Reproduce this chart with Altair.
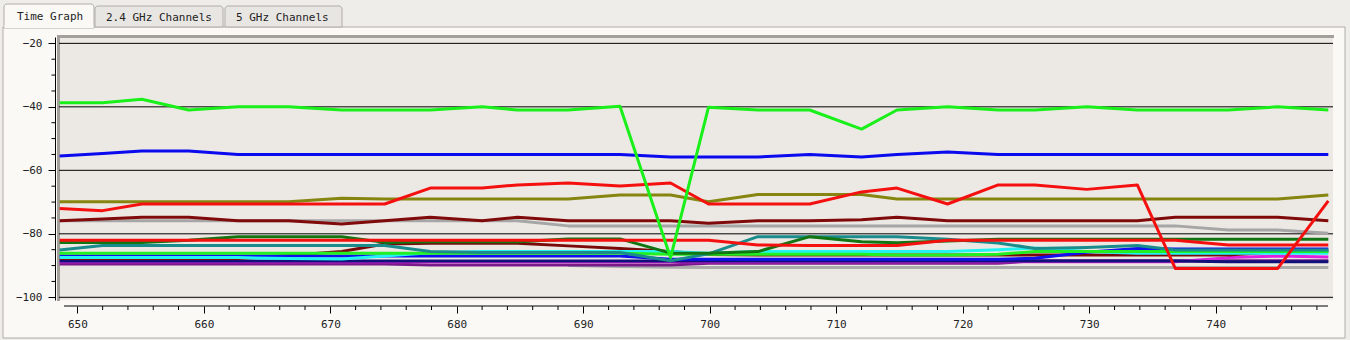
import altair as alt
import pandas as pd

# ---------------- data ----------------
t = [648.6, 652.0, 655.1, 658.8, 662.7, 666.7, 670.9, 674.3, 677.9, 682.0,
     684.8, 688.8, 692.9, 696.9, 699.9, 703.8, 707.9, 712.0, 714.8, 718.8,
     722.8, 725.7, 729.8, 733.8, 736.8, 741.0, 744.9, 748.9]

green_top = [-38.7, -38.7, -37.6, -41.0, -40.0, -40.0, -41.0, -41.0, -41.0, -40.0,
             -41.0, -41.0, -39.8, -87.5, -40.1, -41.0, -41.0, -47.0, -41.0, -40.0,
             -41.0, -41.0, -40.0, -41.0, -41.0, -41.0, -40.0, -41.0]
blue_top = [-55.5, -54.7, -53.9, -53.9, -55.0, -55.0, -55.0, -55.0, -55.0, -55.0,
            -55.0, -55.0, -55.0, -55.8, -55.8, -55.8, -55.0, -55.8, -55.0, -54.2,
            -55.0, -55.0, -55.0, -55.0, -55.0, -55.0, -55.0, -55.0]
red_top = [-72.0, -72.7, -70.6, -70.6, -70.6, -70.6, -70.6, -70.6, -65.6, -65.6,
           -64.6, -64.0, -64.9, -64.0, -70.6, -70.6, -70.6, -66.8, -65.6, -70.6,
           -64.6, -64.6, -66.0, -64.6, -90.9, -90.9, -90.9, -69.6]
olive = [-69.9, -69.9, -69.9, -69.9, -69.9, -69.9, -68.8, -69.0, -69.0, -69.0,
         -69.0, -69.0, -67.8, -67.8, -69.9, -67.6, -67.6, -67.6, -69.0, -69.0,
         -69.0, -69.0, -69.0, -69.0, -69.0, -69.0, -69.0, -67.8]
maroon_top = [-75.9, -75.3, -74.8, -74.8, -75.9, -75.9, -76.9, -75.9, -74.8, -75.9,
              -74.8, -75.9, -75.9, -75.9, -76.7, -75.9, -75.9, -75.6, -74.8, -75.9,
              -75.9, -75.9, -75.9, -75.9, -74.8, -74.8, -74.8, -75.9]
gray_top = [-75.9, -75.9, -75.9, -75.9, -75.9, -75.9, -75.9, -75.9, -75.9, -75.9,
            -75.9, -77.5, -77.5, -77.5, -77.5, -77.5, -77.5, -77.5, -77.5, -77.5,
            -77.5, -77.5, -77.5, -77.5, -77.5, -78.8, -78.8, -79.8]
red_low = [-82.0, -82.0, -82.0, -82.0, -82.0, -82.0, -82.0, -82.0, -82.0, -82.0,
           -82.0, -82.0, -82.0, -82.0, -82.0, -83.5, -83.7, -83.7, -83.7, -82.0,
           -82.0, -82.0, -82.0, -82.0, -82.0, -83.5, -83.5, -83.5]
dkgreen = [-82.7, -82.7, -82.7, -82.0, -80.9, -80.9, -80.9, -82.7, -82.5, -82.5,
           -82.5, -81.6, -81.6, -86.1, -86.1, -85.6, -80.9, -82.5, -82.8, -82.3,
           -81.7, -81.7, -81.7, -81.7, -81.7, -81.7, -81.7, -81.7]
teal = [-85.1, -83.7, -83.7, -83.7, -83.7, -83.7, -83.7, -83.7, -85.6, -85.9,
        -85.9, -85.9, -85.9, -88.5, -86.3, -80.9, -80.9, -80.9, -80.9, -81.7,
        -82.9, -84.6, -84.3, -83.7, -85.1, -85.1, -85.1, -85.1]
lime_low = [-86.1, -86.1, -86.1, -86.1, -86.1, -86.1, -86.1, -86.1, -86.1, -86.1,
            -86.1, -86.1, -86.1, -86.4, -86.4, -86.4, -86.4, -86.4, -86.7, -86.7,
            -86.4, -85.6, -85.6, -85.6, -85.6, -85.6, -85.6, -85.6]
cyan = [-87.5, -87.5, -87.5, -87.5, -87.5, -87.8, -87.9, -87.0, -86.0, -85.6,
        -85.6, -85.6, -85.6, -85.6, -86.1, -85.6, -85.6, -85.6, -85.6, -85.6,
        -85.0, -84.5, -85.6, -86.1, -86.1, -86.1, -86.1, -86.1]
blue_low = [-87.0, -87.0, -87.0, -87.0, -87.0, -87.0, -87.0, -87.0, -87.0, -87.0,
            -87.0, -87.0, -87.0, -88.0, -88.0, -88.0, -88.0, -88.0, -88.0, -88.0,
            -88.0, -87.7, -85.8, -84.6, -84.8, -84.8, -84.8, -84.8]
maroon_low = [-87.8, -87.8, -87.8, -87.8, -87.8, -86.8, -85.6, -83.2, -83.0, -83.0,
              -83.0, -83.8, -84.6, -85.6, -86.5, -86.7, -86.7, -86.7, -86.7, -86.7,
              -86.7, -86.7, -86.7, -86.7, -86.7, -86.7, -85.6, -85.6]
navy = [-88.6, -88.6, -88.6, -88.6, -88.6, -88.6, -88.6, -88.6, -88.6, -88.6,
        -88.6, -88.6, -88.6, -88.6, -88.6, -88.6, -88.6, -88.6, -88.6, -88.6,
        -88.6, -88.6, -88.6, -88.6, -88.6, -88.8, -88.8, -88.8]
purple = [-89.5, -89.5, -89.5, -89.5, -89.5, -89.5, -89.5, -89.5, -89.8, -89.8,
          -89.8, -89.8, -89.8, -89.8, -89.3, -89.3, -89.3, -89.3, -89.3, -89.3,
          -89.3, -88.5, -88.5, -88.5, -88.5, -88.5, -88.5, -88.5]
magenta = [-88.8, -88.8, -88.8, -88.8, -88.8, -88.8, -88.8, -88.8, -88.8, -88.8,
           -88.8, -88.8, -88.8, -88.8, -88.8, -88.8, -88.8, -88.8, -88.8, -88.8,
           -88.8, -88.8, -88.8, -88.8, -88.8, -87.5, -87.0, -87.3]
gray_low = [None, None, None, None, None, None, None, None, None, None,
            None, -90.0, -90.3, -90.5, -90.6, -90.6, -90.6, -90.6, -90.6, -90.6,
            -90.6, -90.6, -90.6, -90.6, -90.6, -90.6, -90.6, -90.6]

# drawing order (bottom first) and colours
series = [
    ("gray_low", gray_low, "#ababab"),
    ("purple", purple, "#7a1a8a"),
    ("magenta", magenta, "#e020e0"),
    ("navy", navy, "#10107a"),
    ("maroon_low", maroon_low, "#7a0a0a"),
    ("blue_low", blue_low, "#1010ee"),
    ("cyan", cyan, "#22f2f2"),
    ("lime_low", lime_low, "#22f022"),
    ("teal", teal, "#1a8c8c"),
    ("dkgreen", dkgreen, "#127512"),
    ("red_low", red_low, "#f51010"),
    ("gray_top", gray_top, "#a6a6a6"),
    ("maroon_top", maroon_top, "#800a0a"),
    ("olive", olive, "#858510"),
    ("blue_top", blue_top, "#0a0aee"),
    ("red_top", red_top, "#f51010"),
    ("green_top", green_top, "#19f019"),
]

y_major = [-20, -40, -60, -80, -100]
y_minor = [-25, -30, -35, -45, -50, -55, -65, -70, -75, -85, -90, -95]
x_major = [650, 660, 670, 680, 690, 700, 710, 720, 730, 740]
x_minor = [652, 654, 656, 658, 662, 664, 666, 668, 672, 674, 676, 678,
           682, 684, 686, 688, 692, 694, 696, 698, 702, 704, 706, 708,
           712, 714, 716, 718, 722, 724, 726, 728, 732, 734, 736, 738,
           742, 744, 746, 748]
tabs = ["Time Graph", "2.4 GHz Channels", "5 GHz Channels"]

# ---------------- layout ----------------
W, H = 1274, 263
FONT = "DejaVu Sans Mono"
OUTER = "#efede9"
PANEL = "#faf9f6"
PLOTBG = "#ece9e5"

xscale = alt.Scale(domain=[648.55, 749.27], nice=False, zero=False)
yscale = alt.Scale(domain=[-100.85, -18.0], nice=False, zero=False)

xaxis = alt.Axis(values=x_major, orient="bottom", offset=6, domain=False,
                 tickSize=7, tickColor="#000", labelPadding=5, labelFont=FONT,
                 labelFontSize=11, labelColor="#222", format="d", grid=False,
                 title=None, zindex=1, labelFlush=False, labelOverlap=False)
yaxis = alt.Axis(values=y_major, orient="left", offset=4, domain=True,
                 domainColor="#000", domainWidth=1, tickSize=7, tickColor="#000",
                 labelPadding=6, labelFont=FONT, labelFontSize=11,
                 labelColor="#222", format="d", grid=False, title=None, zindex=1)

one = alt.Data(values=[{}])


def box(x, x2, y, y2, **kw):
    return alt.Chart(one).mark_rect(**kw).encode(
        x=alt.value(x), x2=alt.value(x2), y=alt.value(y), y2=alt.value(y2))


def label(txt, x, y):
    return alt.Chart(one).mark_text(text=txt, align="left", baseline="alphabetic",
                                    font=FONT, fontSize=11, color="#222").encode(
        x=alt.value(x), y=alt.value(y))


layers = []
# panel frame
layers.append(box(-56, 1286, -10, 301, fill=PANEL, stroke="#b0ada8", strokeWidth=1))
# tabs
layers.append(box(36, 164, -31, -10, fill="#e8e6e2", stroke="#b0ada8", strokeWidth=1,
                  cornerRadiusTopLeft=3, cornerRadiusTopRight=3))
layers.append(box(166, 283, -31, -10, fill="#e8e6e2", stroke="#b0ada8", strokeWidth=1,
                  cornerRadiusTopLeft=3, cornerRadiusTopRight=3))
layers.append(box(-55, 35, -33, -9, fill=PANEL, stroke="#b0ada8", strokeWidth=1,
                  cornerRadiusTopLeft=3, cornerRadiusTopRight=3))
layers.append(box(-54.5, 34.5, -12, -9, fill=PANEL))
layers.append(label(tabs[0], -42, -17))
layers.append(label(tabs[1], 47, -16))
layers.append(label(tabs[2], 177, -16))

# plot background and bevel border
layers.append(box(0, W, 0, H, fill=PLOTBG))
layers.append(box(-2, 1, -2, H + 1, fill="#a3a09c"))
layers.append(box(-2, W + 1, -2, 1, fill="#a3a09c"))

# grid lines
grid_df = pd.DataFrame({"v": y_major})
layers.append(alt.Chart(grid_df).mark_rule(color="#000", strokeWidth=1).encode(
    y=alt.Y("v:Q", scale=yscale, axis=yaxis)))

# minor ticks
ymin_df = pd.DataFrame({"v": y_minor})
layers.append(alt.Chart(ymin_df).mark_rule(color="#000", strokeWidth=1).encode(
    y=alt.Y("v:Q", scale=yscale, axis=yaxis), x=alt.value(-7.5), x2=alt.value(-4)))
xmin_df = pd.DataFrame({"t": x_minor})
layers.append(alt.Chart(xmin_df).mark_rule(color="#000", strokeWidth=1).encode(
    x=alt.X("t:Q", scale=xscale, axis=xaxis), y=alt.value(H + 6), y2=alt.value(H + 10)))
# x axis base line
layers.append(alt.Chart(one).mark_rule(color="#000", strokeWidth=1).encode(
    x=alt.value(5), x2=alt.value(W - 5), y=alt.value(H + 6)))

# series lines
for name, vals, col in series:
    df = pd.DataFrame({"t": t, "v": vals}).dropna()
    layers.append(alt.Chart(df).mark_line(color=col, strokeWidth=3, strokeJoin="round",
                                          strokeCap="butt").encode(
        x=alt.X("t:Q", scale=xscale, axis=xaxis),
        y=alt.Y("v:Q", scale=yscale, axis=yaxis)))

chart = alt.layer(*layers).properties(
    width=W, height=H,
    padding={"left": 59, "top": 37, "right": 17, "bottom": 40},
    autosize=alt.AutoSizeParams(type="none"),
    background=OUTER,
).configure_view(stroke=None)

chart.save("out.html", embed_options={"renderer": "svg", "actions": False})
